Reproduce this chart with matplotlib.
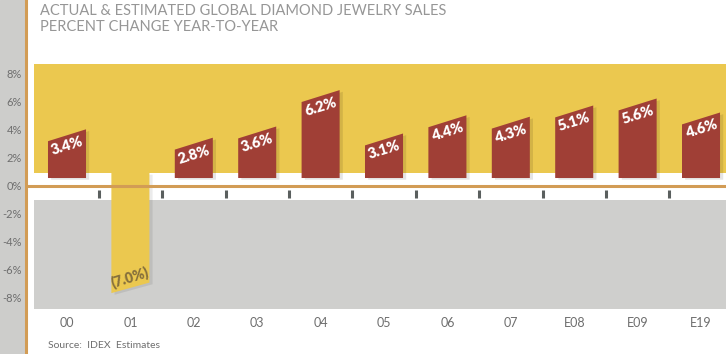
import numpy as np
import matplotlib
matplotlib.use("Agg")
import matplotlib.pyplot as plt
from matplotlib.patches import Polygon, Rectangle
from matplotlib.lines import Line2D

# data
years = ['00', '01', '02', '03', '04', '05', '06', '07', 'E08', 'E09', 'E19']
change = [3.4, -7.0, 2.8, 3.6, 6.2, 3.1, 4.4, 4.3, 5.1, 5.6, 4.6]
labels = ['3.4%', '(7.0%)', '2.8%', '3.6%', '6.2%', '3.1%', '4.4%', '4.3%', '5.1%', '5.6%', '4.6%']
yticks = [-8, -6, -4, -2, 0, 2, 4, 6, 8]

YELLOW = '#EBC84F'
RED = '#A03F36'
PANEL_GREY = '#CFCFCD'
STRIP_GREY = '#CDCDCB'
ORANGE = '#D29C55'
TXT = '#6E6E6E'

W, H = 726, 354
fig = plt.figure(figsize=(W / 100, H / 100), dpi=100)
fig.patch.set_facecolor('white')

# left grey strip + orange rule (behind the axes so tick labels show)
fig.patches.append(Rectangle((0, 0), 25 / W, 1, transform=fig.transFigure,
                             color=STRIP_GREY, zorder=-1))
fig.lines.append(Line2D([26 / W, 26 / W], [0, 1], transform=fig.transFigure,
                        color=ORANGE, lw=2.2))

ax = fig.add_axes([27 / W, (H - 309) / H, (W - 27) / W, (309 - 64) / H])
ax.set_xlim(-0.631, 10.394)
ax.set_ylim(-8.786, 8.714)
ax.patch.set_alpha(0)
for s in ax.spines.values():
    s.set_visible(False)

# background panels
ax.axhspan(0.93, 8.714, xmin=0.01, xmax=1, color=YELLOW, lw=0, zorder=1)
ax.axhspan(-8.786, -1.0, xmin=0.01, xmax=1, color=PANEL_GREY, lw=0, zorder=1)

w = 0.3
base = 0.57
p0 = ax.transData.transform((0, 0))
p1 = ax.transData.transform((2 * w, 0.85))
ang = np.degrees(np.arctan2(p1[1] - p0[1], p1[0] - p0[0]))

for i, (v, lab) in enumerate(zip(change, labels)):
    if v >= 0:
        pts = [(i - w, base), (i + w, base), (i + w, v + 0.65), (i - w, v - 0.2)]
        sh = [(x + 0.05, y - 0.12) for x, y in pts]
        ax.add_patch(Polygon(sh, closed=True, color='#000000', alpha=0.10, lw=0, zorder=2))
        ax.add_patch(Polygon(pts, closed=True, color=RED, lw=0, zorder=3))
        ax.text(i, v - 0.55, lab, color='white', fontsize=10.5, fontweight='heavy',
                family='Lato', rotation=ang, ha='center', va='center', zorder=4)
    else:
        pts = [(i - w, 0.93), (i + w, 0.93), (i + w, v + 0.1), (i - w, v - 0.65)]
        sh = [(x + 0.05, y - 0.12) for x, y in pts]
        ax.add_patch(Polygon(sh, closed=True, color='#000000', alpha=0.08, lw=0, zorder=2))
        ax.add_patch(Polygon(pts, closed=True, color=YELLOW, lw=0, zorder=3))
        ax.text(i, v + 0.5, lab, color='#86703C', fontsize=10, fontweight='heavy',
                family='Lato', rotation=ang, ha='center', va='center', zorder=4)

# zero line and separators
ax.axhline(0, color=ORANGE, lw=2.2, zorder=5)
ax.vlines(np.arange(len(years) - 1) + 0.5, -0.86, -0.29, color='#5A5F5E', lw=2.2, zorder=5)

ax.set_xticks(range(len(years)), years)
ax.set_yticks(yticks, [f'{t}%' for t in yticks])
ax.tick_params(axis='both', length=0, colors=TXT)
ax.tick_params(axis='x', pad=6, labelsize=9)
ax.tick_params(axis='y', pad=3.5, labelsize=8)
for t in ax.get_xticklabels() + ax.get_yticklabels():
    t.set_family('Lato')

fig.text(40 / W, 1 - 11 / H, 'ACTUAL & ESTIMATED GLOBAL DIAMOND JEWELRY SALES',
         family='Lato', fontsize=10.5, color='#969696', va='center')
fig.text(40 / W, 1 - 27 / H, 'PERCENT CHANGE YEAR-TO-YEAR',
         family='Lato', fontsize=10.5, color='#969696', va='center')
fig.text(48 / W, 1 - 346 / H, 'Source:  IDEX  Estimates', family='Lato',
         fontsize=7.5, color=TXT, va='center')

fig.savefig('out.png', dpi=100)
